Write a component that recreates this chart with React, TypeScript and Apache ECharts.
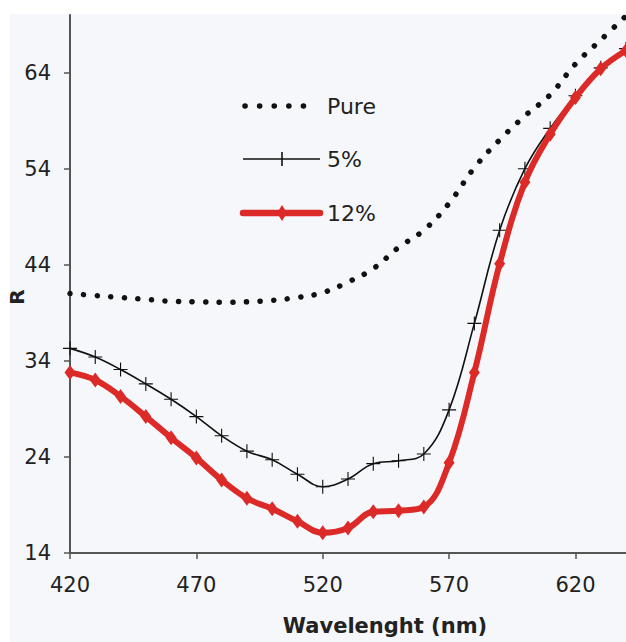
import React, { useEffect, useRef } from "react";
import * as echarts from "echarts";

const wavelengths = [420, 430, 440, 450, 460, 470, 480, 490, 500, 510, 520, 530, 540, 550, 560, 570, 580, 590, 600, 610, 620, 630, 640];
const pureValues = [41.0, 40.8, 40.6, 40.4, 40.2, 40.15, 40.1, 40.15, 40.3, 40.6, 41.1, 42.2, 43.6, 45.8, 47.6, 50.4, 54.1, 57.0, 59.5, 61.7, 64.9, 67.4, 69.9];
const fivePctValues = [35.3, 34.4, 33.1, 31.6, 30.0, 28.2, 26.2, 24.6, 23.7, 22.2, 20.9, 21.7, 23.3, 23.6, 24.3, 28.9, 37.9, 47.6, 54.0, 58.2, 61.6, 64.5, 66.5];
const twelvePctValues = [32.8, 32.0, 30.3, 28.2, 26.0, 23.9, 21.6, 19.7, 18.6, 17.3, 16.1, 16.6, 18.3, 18.4, 18.8, 23.4, 32.8, 44.1, 52.6, 57.6, 61.4, 64.4, 66.3];
const seriesNames = ["Pure", "5%", "12%"];
const xTicks = [420, 470, 520, 570, 620];
const yTicks = [14, 24, 34, 44, 54, 64];

const RED = "#db2a27";
const FONT = "DejaVu Sans";
const PLUS = "path://M-0.08,-1H0.08V-0.08H1V0.08H0.08V1H-0.08V0.08H-1V-0.08H-0.08Z";

const pairs = (vals: number[]) => wavelengths.map((w, i) => [w, vals[i]]);

export default function App() {
  const ref = useRef<HTMLDivElement>(null);
  useEffect(() => {
    if (!ref.current) return;
    const chart = echarts.init(ref.current, undefined, { renderer: "svg" });
    const legendY = [106, 159, 213];
    chart.setOption({
      animation: false,
      backgroundColor: "#ffffff",
      grid: { left: 70, right: 0, top: 15, bottom: 89, containLabel: false, outerBoundsMode: "none" },
      xAxis: {
        type: "value",
        min: 420,
        max: 640,
        name: "Wavelenght (nm)",
        nameLocation: "middle",
        nameGap: 62,
        nameTextStyle: { fontFamily: FONT, fontWeight: "bold", fontSize: 21, color: "#222", padding: [0, 0, 0, 74] },
        axisLine: { show: true, lineStyle: { color: "#555", width: 2 } },
        axisTick: { show: true, length: 6, lineStyle: { color: "#555", width: 1.5 }, customValues: xTicks },
        axisLabel: { customValues: xTicks, fontFamily: FONT, fontSize: 21, color: "#222", margin: 21 },
        splitLine: { show: false },
      },
      yAxis: {
        type: "value",
        min: 14,
        max: 70,
        axisLine: { show: true, lineStyle: { color: "#555", width: 2 } },
        axisTick: { show: true, length: 6, lineStyle: { color: "#555", width: 1.5 }, customValues: yTicks },
        axisLabel: { customValues: yTicks, fontFamily: FONT, fontSize: 21, color: "#222", margin: 19 },
        splitLine: { show: false },
      },
      graphic: [
        { type: "rect", silent: true, z: -10, shape: { x: 10, y: 14, width: 616, height: 628 }, style: { fill: "#f6f7fa" } },
        {
          type: "text",
          silent: true,
          x: 17,
          y: 297,
          rotation: Math.PI / 2,
          style: { text: "R", fontFamily: FONT, fontWeight: "bold", fontSize: 20, fill: "#222", align: "center", verticalAlign: "middle" },
        },
        { type: "line", silent: true, shape: { x1: 245, y1: legendY[0], x2: 318, y2: legendY[0] }, style: { stroke: "#111", lineWidth: 5.5, lineDash: [0.1, 14.5], lineCap: "round" } },
        { type: "line", silent: true, shape: { x1: 243, y1: legendY[1], x2: 320, y2: legendY[1] }, style: { stroke: "#111", lineWidth: 1.6 } },
        { type: "line", silent: true, shape: { x1: 282, y1: legendY[1] - 7, x2: 282, y2: legendY[1] + 7 }, style: { stroke: "#111", lineWidth: 1.6 } },
        { type: "line", silent: true, shape: { x1: 243, y1: legendY[2], x2: 320, y2: legendY[2] }, style: { stroke: RED, lineWidth: 6.5, lineCap: "round" } },
        { type: "polygon", silent: true, shape: { points: [[282, legendY[2] - 8], [287, legendY[2]], [282, legendY[2] + 8], [277, legendY[2]]] }, style: { fill: RED } },
        ...seriesNames.map((n, i) => ({
          type: "text",
          silent: true,
          x: 327,
          y: legendY[i],
          style: { text: n, fontFamily: FONT, fontSize: 22, fill: "#222", verticalAlign: "middle", align: "left" },
        })),
      ],
      series: [
        {
          name: seriesNames[0],
          type: "line",
          data: pairs(pureValues),
          smooth: 0.4,
          showSymbol: false,
          symbol: "none",
          lineStyle: { color: "#111", width: 5.5, type: [0.1, 13.5], cap: "round" },
          z: 3,
        },
        {
          name: seriesNames[1],
          type: "line",
          data: pairs(fivePctValues),
          smooth: 0.4,
          symbol: PLUS,
          symbolSize: 14,
          itemStyle: { color: "#111" },
          lineStyle: { color: "#111", width: 1.6 },
          z: 4,
        },
        {
          name: seriesNames[2],
          type: "line",
          data: pairs(twelvePctValues),
          smooth: 0.4,
          symbol: "diamond",
          symbolSize: [11, 15],
          itemStyle: { color: RED },
          lineStyle: { color: RED, width: 6 },
          z: 5,
        },
      ],
    });
    return () => chart.dispose();
  }, []);
  return <div ref={ref} style={{ position: "absolute", left: 0, top: 0, width: 626, height: 642 }} />;
}
